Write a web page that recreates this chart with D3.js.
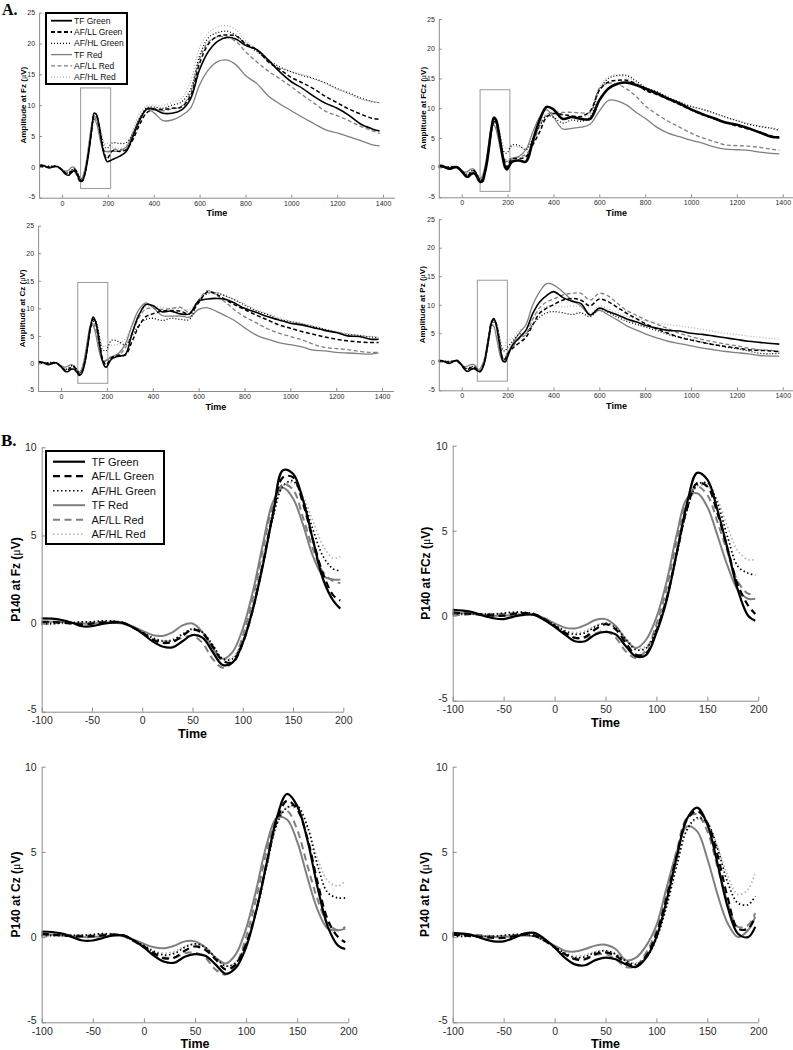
<!DOCTYPE html>
<html>
<head>
<meta charset="utf-8">
<script src="https://cdn.jsdelivr.net/npm/d3@7"></script>
<style>
body { margin: 0; background: #fff; }
svg text { font-family: Arial, "Liberation Sans", Helvetica, sans-serif; }
</style>
</head>
<body>
<div id="chart"></div>
<script>

// condition names (legend order)
var seriesNames = ["TF Green", "AF/LL Green", "AF/HL Green", "TF Red", "AF/LL Red", "AF/HL Red"];

// ticks
var xTicksA = [0, 200, 400, 600, 800, 1000, 1200, 1400];
var yTicksA = [-5, 0, 5, 10, 15, 20, 25];
var xTicksB = [-100, -50, 0, 50, 100, 150, 200];
var yTicksB = [-5, 0, 5, 10];

// sample times: early window (shared by A and B) and the rest of the epoch (A only)
var tEarly = [-100, -90, -80, -70, -60, -50, -40, -30, -20, -10,
              0, 10, 20, 30, 40, 50, 60, 70, 80, 90,
              100, 110, 120, 130, 140, 150, 160, 170, 180, 190, 197];
var tLate = [220, 250, 280, 310, 340, 370, 400, 440, 480, 520,
             560, 600, 640, 680, 720, 760, 800, 850, 900, 950,
             1000, 1050, 1100, 1150, 1200, 1250, 1300, 1350, 1385];

// P140 window boxes drawn on the A panels: [t0, t1, v0, v1]
var boxFz  = [81, 212, -3.5, 12.8];
var boxFCz = [80, 210, -4.0, 13.1];
var boxCz  = [73, 204, -3.6, 14.7];
var boxPz  = [68, 199, -3.4, 14.3];

// ---- Fz ----
var fzEarly = [
  [0.3,0.28,0.2,0.05,-0.15,-0.15,-0.02,0.05,0.05,-0.2, -0.55,-1.0,-1.3,-1.35,-1.0,-0.65,-0.8,-1.6,-2.35,-2.2, -1.1,0.8,3.3,6.2,8.7,8.5,7.0,4.7,2.5,1.3, 0.85],
  [0.1,0.1,0.05,0.0,-0.05,0.0,0.05,0.1,0.05,-0.2, -0.5,-0.9,-1.1,-1.05,-0.7,-0.35,-0.55,-1.3,-2.1,-2.2, -1.1,0.8,3.4,6.2,8.3,8.3,6.8,4.7,2.8,1.6, 1.3],
  [0.0,0.0,0.05,0.05,0.1,0.1,0.15,0.15,0.05,-0.2, -0.5,-0.8,-1.0,-0.95,-0.6,-0.3,-0.5,-1.2,-2.0,-2.0, -1.0,0.9,3.3,6.0,7.8,8.1,7.0,5.3,3.8,3.1, 3.0],
  [0.1,0.1,0.1,0.05,0.0,0.0,0.05,0.05,0.0,-0.15, -0.4,-0.65,-0.7,-0.5,-0.1,0.0,-0.5,-1.4,-2.0,-1.6, -0.3,1.8,4.5,6.9,7.7,7.1,5.6,3.8,2.7,2.5, 2.5],
  [0.0,0.0,0.05,0.05,0.05,0.05,0.1,0.1,0.05,-0.2, -0.5,-0.9,-1.0,-1.0,-0.8,-0.7,-1.1,-2.0,-2.5,-2.2, -0.7,1.4,4.2,6.7,7.9,7.6,6.0,4.2,2.9,2.4, 2.3],
  [-0.05,-0.05,0.0,0.05,0.1,0.1,0.15,0.15,0.1,-0.15, -0.45,-0.8,-0.95,-0.9,-0.6,-0.35,-0.5,-1.2,-2.0,-1.9, -0.8,1.2,3.8,6.3,7.8,8.0,7.2,5.8,4.4,3.7, 3.8]
];
var fzLate = [
  [1.2,1.7,2.5,5.0,7.6,9.4,9.4,8.7,8.7,9.2, 11.0,15.8,18.8,20.4,21.0,20.7,19.7,19.0,17.3,15.4, 13.8,12.7,11.4,10.3,9.5,8.4,7.0,6.2,5.8],
  [2.6,2.5,2.8,4.5,7.0,8.8,9.3,9.3,9.5,9.7, 11.5,16.8,20.0,21.2,21.4,21.2,20.0,19.0,17.0,15.8, 14.5,13.6,12.6,11.4,10.4,9.4,8.6,7.9,7.7],
  [3.9,3.8,3.9,5.5,8.0,9.6,9.7,9.5,10.0,10.5, 12.5,18.0,21.0,21.8,22.0,21.3,20.0,18.7,17.3,16.2, 15.4,14.8,14.3,13.6,12.7,12.0,11.2,10.6,10.4],
  [2.5,2.6,3.2,5.5,8.0,9.3,8.8,7.5,7.6,8.3, 9.5,13.3,15.8,17.1,17.3,16.5,14.8,13.5,11.5,10.2, 9.1,8.0,7.0,6.0,5.5,4.9,4.3,3.6,3.4],
  [2.8,2.8,3.0,5.0,7.8,9.3,9.3,9.1,9.4,9.8, 12.0,17.5,20.3,21.1,21.0,20.3,18.7,17.0,15.5,14.3, 13.0,11.6,10.3,9.0,8.3,7.5,6.6,5.9,5.4],
  [3.2,3.0,3.5,6.0,8.8,9.9,10.0,9.9,10.5,11.0, 13.8,19.3,21.8,22.7,22.9,22.2,20.5,18.8,17.0,16.0, 15.5,15.0,14.2,13.5,12.6,11.8,11.0,10.6,10.4]
];

// ---- FCz ----
var fczEarly = [
  [0.35,0.3,0.2,0.0,-0.15,-0.2,-0.05,0.05,0.05,-0.25, -0.65,-1.1,-1.5,-1.5,-1.1,-0.95,-1.1,-1.8,-2.4,-2.3, -1.0,0.9,3.7,6.6,8.4,8.0,6.2,3.9,1.5,0.0, -0.3],
  [0.2,0.15,0.1,0.05,0.0,0.0,0.1,0.15,0.1,-0.2, -0.6,-1.0,-1.3,-1.25,-0.8,-0.5,-0.8,-1.6,-2.3,-2.2, -0.9,1.0,3.7,6.3,7.8,7.6,6.0,3.9,1.8,0.6, 0.1],
  [0.1,0.1,0.1,0.1,0.1,0.15,0.2,0.2,0.1,-0.2, -0.55,-0.9,-1.1,-1.0,-0.65,-0.45,-0.7,-1.4,-2.0,-1.9, -0.8,1.0,3.6,6.2,7.7,7.8,6.6,4.6,2.9,2.5, 2.4],
  [0.15,0.15,0.1,0.05,0.0,0.0,0.05,0.1,0.05,-0.15, -0.45,-0.7,-0.75,-0.55,-0.25,-0.2,-0.6,-1.4,-1.9,-1.4, -0.1,2.0,4.8,6.9,7.2,6.4,4.7,2.9,1.5,1.0, 1.0],
  [0.05,0.05,0.1,0.1,0.1,0.1,0.15,0.15,0.05,-0.25, -0.6,-1.0,-1.3,-1.3,-1.05,-0.9,-1.3,-2.1,-2.5,-2.0, -0.5,1.6,4.4,6.8,7.6,7.1,5.5,3.7,2.0,1.3, 1.3],
  [0.0,0.05,0.1,0.1,0.1,0.15,0.2,0.2,0.1,-0.15, -0.5,-0.85,-1.0,-0.9,-0.6,-0.4,-0.65,-1.3,-1.9,-1.8, -0.6,1.2,3.8,6.3,7.6,7.6,6.8,5.2,3.8,3.3, 3.3]
];
var fczLate = [
  [1.0,1.2,1.0,4.5,8.0,10.2,9.8,8.2,8.5,8.2, 8.2,11.3,13.3,14.1,14.3,13.9,13.3,12.5,11.6,10.8, 9.8,9.0,8.3,7.6,7.2,6.6,5.9,5.2,5.1],
  [1.5,1.5,1.8,3.8,6.0,8.5,9.1,8.9,8.7,8.6, 9.5,13.0,14.4,14.7,14.7,14.1,13.0,12.3,11.5,10.6, 9.7,8.9,8.2,7.6,7.0,6.5,6.0,5.3,5.0],
  [3.8,3.7,3.0,4.8,7.0,8.6,8.5,7.5,8.0,7.8, 8.5,13.0,15.0,15.5,15.5,14.6,13.5,12.8,11.8,11.0, 10.3,9.8,9.2,8.5,7.9,7.3,6.9,6.6,6.3],
  [1.4,1.9,3.0,6.0,8.5,9.7,8.5,6.5,6.6,6.8, 7.3,9.5,11.3,11.2,10.5,9.3,8.3,6.8,5.8,5.2, 4.6,4.1,3.5,3.1,3.0,2.9,2.6,2.4,2.3],
  [1.6,1.8,2.2,4.0,7.0,8.9,9.3,9.3,9.3,9.2, 9.3,13.3,14.2,14.0,13.2,12.0,10.4,9.0,7.8,6.8, 5.8,5.0,4.4,3.8,3.7,3.6,3.4,3.1,2.9],
  [3.5,3.5,3.2,5.0,7.5,9.0,9.0,8.2,8.5,8.5, 9.0,13.5,15.3,15.5,15.2,14.3,13.2,12.5,11.7,11.0, 10.3,9.8,9.1,8.5,7.9,7.4,7.0,6.7,6.5]
];

// ---- Cz ----
var czEarly = [
  [0.33,0.3,0.2,0.0,-0.2,-0.2,-0.05,0.1,0.1,-0.2, -0.6,-1.1,-1.45,-1.5,-1.15,-1.0,-1.1,-1.6,-2.15,-1.8, -0.6,1.55,4.3,7.0,8.4,7.7,5.7,2.9,0.6,-0.5, -0.7],
  [0.2,0.15,0.1,0.05,0.05,0.05,0.1,0.15,0.1,-0.2, -0.55,-0.95,-1.25,-1.2,-0.8,-0.55,-0.75,-1.3,-1.9,-1.6, -0.4,1.6,4.3,6.8,8.0,7.5,5.8,3.2,1.0,0.0, -0.3],
  [0.1,0.1,0.1,0.1,0.1,0.15,0.2,0.15,0.1,-0.2, -0.5,-0.85,-1.05,-0.95,-0.6,-0.4,-0.6,-1.2,-1.7,-1.5, -0.4,1.5,4.1,6.6,7.6,7.7,6.5,4.2,2.6,2.3, 2.3],
  [0.2,0.15,0.1,0.05,0.0,0.0,0.05,0.1,0.05,-0.15, -0.4,-0.6,-0.65,-0.5,-0.25,-0.25,-0.6,-1.2,-1.55,-1.0, 0.5,2.8,5.4,7.0,6.9,5.6,3.5,1.6,0.5,0.4, 0.5],
  [0.1,0.1,0.1,0.1,0.1,0.1,0.15,0.15,0.05,-0.25, -0.6,-1.0,-1.2,-1.2,-0.95,-0.9,-1.2,-1.9,-2.2,-1.6, 0.0,2.3,5.0,7.0,7.4,6.3,4.2,2.2,0.8,0.4, 0.6],
  [0.0,0.05,0.1,0.1,0.1,0.15,0.2,0.2,0.1,-0.15, -0.45,-0.8,-0.95,-0.85,-0.55,-0.4,-0.6,-1.2,-1.7,-1.5, -0.3,1.6,4.2,6.6,7.6,7.5,6.4,4.6,3.3,3.0, 3.3]
];
var czLate = [
  [0.8,1.3,1.6,5.5,8.8,10.7,10.5,9.4,9.5,9.0, 9.0,11.3,11.7,11.8,11.6,10.9,10.0,9.3,8.5,7.9, 7.3,7.0,6.5,6.0,5.6,5.0,4.9,4.4,4.4],
  [1.0,1.5,1.5,4.0,6.8,8.5,9.0,9.5,9.6,9.5, 9.0,11.0,13.0,12.5,11.5,10.6,9.8,8.8,7.9,7.0, 6.4,5.8,5.3,4.8,4.4,4.1,3.9,3.8,3.8],
  [4.2,4.0,3.4,5.0,7.0,8.0,8.2,7.8,8.2,8.0, 8.0,11.5,12.7,12.8,12.2,11.5,10.6,9.6,8.9,8.0, 7.6,7.2,6.7,6.2,5.7,5.3,5.1,4.8,4.7],
  [1.2,1.8,3.5,7.0,9.8,11.0,10.2,8.7,8.6,8.6, 8.4,9.8,10.1,9.4,8.6,7.7,6.5,5.2,4.4,3.8, 3.4,3.0,2.4,2.3,2.0,1.9,1.8,1.7,1.9],
  [1.2,1.5,2.8,5.5,8.3,9.9,10.0,9.8,10.0,10.2, 9.3,11.5,13.2,12.3,11.0,9.6,8.5,7.4,6.3,5.5, 4.9,4.3,3.5,2.9,2.7,2.5,2.2,2.0,2.0],
  [3.3,3.5,4.5,6.8,9.0,10.3,10.4,10.2,10.0,10.0, 9.8,11.5,12.9,12.8,12.2,11.5,10.8,9.8,9.0,8.3, 7.7,7.2,6.8,6.2,5.8,5.4,5.0,4.9,4.8]
];

// ---- Pz ----
var pzEarly = [
  [0.25,0.2,0.1,-0.1,-0.25,-0.25,-0.05,0.2,0.25,-0.1, -0.6,-1.2,-1.6,-1.65,-1.35,-1.2,-1.3,-1.6,-1.75,-1.2, 0.0,2.15,4.7,6.95,7.6,6.6,4.3,1.75,0.2,0.0, 0.6],
  [0.15,0.1,0.05,0.0,-0.05,-0.05,0.05,0.15,0.1,-0.2, -0.6,-1.0,-1.3,-1.3,-1.0,-0.9,-1.1,-1.5,-1.7,-1.1, 0.2,2.3,4.8,6.9,7.4,6.7,4.8,2.3,0.5,0.5, 1.2],
  [0.05,0.05,0.05,0.05,0.05,0.1,0.15,0.15,0.05,-0.2, -0.55,-0.95,-1.2,-1.15,-0.9,-0.8,-1.0,-1.4,-1.6,-1.2, -0.1,1.8,4.2,6.3,7.0,6.7,5.2,3.2,2.0,1.9, 2.4],
  [0.15,0.15,0.1,0.05,0.0,0.0,0.05,0.1,0.05,-0.2, -0.5,-0.8,-0.85,-0.7,-0.5,-0.45,-0.7,-1.35,-1.2,-0.5, 0.7,2.9,5.0,6.5,6.2,4.6,2.5,0.8,0.0,0.4, 1.2],
  [0.2,0.2,0.15,0.1,0.05,0.05,0.1,0.15,0.1,-0.2, -0.6,-1.0,-1.25,-1.25,-1.05,-1.0,-1.3,-1.75,-1.7,-0.9, 0.4,2.6,5.1,7.0,7.2,6.2,4.1,2.0,0.6,0.7, 1.4],
  [0.0,0.0,0.05,0.05,0.05,0.1,0.15,0.15,0.05,-0.2, -0.55,-0.9,-1.1,-1.05,-0.85,-0.8,-1.0,-1.4,-1.5,-1.1, 0.0,1.9,4.3,6.3,6.9,6.6,5.3,3.6,2.5,2.8, 3.8]
];
var pzLate = [
  [2.8,4.2,5.5,8.5,10.5,11.6,12.3,11.3,10.6,10.2, 8.2,9.4,8.8,8.2,7.5,7.0,6.4,5.9,5.5,5.4, 5.0,4.8,4.5,4.2,3.9,3.6,3.4,3.2,3.1],
  [2.3,3.3,4.3,6.5,8.5,9.4,10.0,10.8,11.1,10.8, 9.8,11.0,10.5,9.5,8.5,7.6,6.7,5.8,5.0,4.3, 3.8,3.4,3.0,2.7,2.4,2.1,2.0,1.9,1.8],
  [3.5,4.8,5.0,6.5,7.8,8.6,8.8,8.6,8.3,8.6, 7.9,9.3,8.6,7.8,7.1,6.6,6.1,5.5,4.8,4.3, 3.9,3.4,3.0,2.6,2.3,1.9,1.5,1.4,1.5],
  [3.0,5.0,6.5,10.0,12.3,13.7,13.5,12.3,10.8,9.8, 8.2,9.0,8.2,7.3,6.3,5.6,4.9,4.2,3.6,3.2, 2.8,2.4,2.1,1.8,1.6,1.4,1.1,1.0,1.0],
  [2.5,4.0,4.8,7.5,9.5,10.5,11.0,11.7,12.0,12.0, 10.8,12.0,11.5,10.2,9.0,8.2,7.4,6.6,5.8,5.0, 4.4,3.9,3.5,3.1,2.8,2.4,2.1,2.0,1.8],
  [4.0,5.5,6.0,7.5,9.0,9.7,9.9,9.6,9.8,9.6, 8.5,9.8,9.2,8.6,8.0,7.6,7.2,6.8,6.5,6.3, 6.0,5.7,5.3,5.0,4.8,4.5,4.3,4.1,4.0]
];

// ---- styling ----
var colors = ["#000", "#000", "#000", "#7f7f7f", "#7f7f7f", "#b4b4b4"];
var kinds = ["solid", "dashed", "dotted", "solid", "dashed", "dotted"];
var dashA = {solid: null, dashed: "4,2.5", dotted: "1,2"};
var dashB = {solid: null, dashed: "7,4.5", dotted: "1.5,2.5"};
var axisGray = "#8c8c8c";
var plain = function(d) { return String(d); };   // MATLAB style: 1400, -5 (hyphen, no comma)

var svg = d3.select("#chart").append("svg")
    .attr("width", 793)
    .attr("height", 1050);
svg.append("rect").attr("width", 793).attr("height", 1050).attr("fill", "#fff");

function pointsFor(early, late, k) {
    var pts = tEarly.map(function(t, i) { return [t, early[k][i]]; });
    if (late) {
        pts = pts.concat(tLate.map(function(t, i) { return [t, late[k][i]]; }));
    }
    return pts;
}

function drawPanel(c) {
    var g = svg.append("g");
    var x = d3.scaleLinear().domain(c.xDomain).range(c.xRange);
    var y = d3.scaleLinear().domain(c.yDomain).range(c.yRange);

    // box around the P140 window
    if (c.box) {
        g.append("rect")
            .attr("x", x(c.box[0]))
            .attr("y", y(c.box[3]))
            .attr("width", x(c.box[1]) - x(c.box[0]))
            .attr("height", y(c.box[2]) - y(c.box[3]))
            .attr("fill", "none")
            .attr("stroke", "#999")
            .attr("stroke-width", 1);
    }

    var line = d3.line()
        .x(function(d) { return x(d[0]); })
        .y(function(d) { return y(d[1]); })
        .curve(d3.curveCatmullRom);

    // draw red (gray) conditions first so the green (black) ones sit on top
    for (var k = 5; k >= 0; k--) {
        g.append("path")
            .datum(pointsFor(c.early, c.late, k))
            .attr("d", line)
            .attr("fill", "none")
            .attr("stroke", colors[k])
            .attr("stroke-width", c.widths[k])
            .attr("stroke-dasharray", c.dash[kinds[k]])
            .attr("stroke-linejoin", "round");
    }

    var gx = g.append("g")
        .attr("transform", "translate(0," + c.yRange[0] + ")")
        .call(d3.axisBottom(x).tickValues(c.xTicks).tickFormat(plain)
            .tickSizeInner(-c.tick).tickSizeOuter(0).tickPadding(c.padX));
    var gy = g.append("g")
        .attr("transform", "translate(" + c.xRange[0] + ",0)")
        .call(d3.axisLeft(y).tickValues(c.yTicks).tickFormat(plain)
            .tickSizeInner(-c.tick).tickSizeOuter(0).tickPadding(c.padY));
    [gx, gy].forEach(function(a) {
        a.attr("font-family", null).attr("font-size", null);
        a.select(".domain").attr("stroke", axisGray);
        a.selectAll(".tick line").attr("stroke", axisGray);
        a.selectAll(".tick text").attr("fill", "#2a2a2a").style("font-size", c.fs + "px");
    });
    // lowest y label sits just above the first x label, as in the original
    gy.selectAll(".tick text").filter(function(d) { return d === c.yDomain[0]; })
        .attr("dy", "0.1em");

    // Time label
    g.append("text")
        .attr("x", (x(c.xLabelAt[0]) + x(c.xLabelAt[1])) / 2)
        .attr("y", c.yRange[0] + c.timeOff)
        .attr("text-anchor", "middle")
        .style("font-size", c.labFs + "px")
        .style("font-weight", "bold")
        .text("Time");

    // y label with a symbol-font mu
    var yl = g.append("text")
        .attr("transform", "translate(" + c.yLabX + "," + ((c.yRange[0] + c.yRange[1]) / 2) + ") rotate(-90)")
        .attr("text-anchor", "middle")
        .attr("dy", "0.35em")
        .style("font-size", c.yLabFs + "px")
        .style("font-weight", "bold");
    yl.append("tspan").text(c.yLabel + " (");
    yl.append("tspan").style("font-weight", "normal").style("font-family", "'Times New Roman', 'Liberation Serif', serif").text("\u03BC");
    yl.append("tspan").text("V)");
}

function drawLegend(l) {
    var g = svg.append("g");
    g.append("rect")
        .attr("x", l.x).attr("y", l.y).attr("width", l.w).attr("height", l.h)
        .attr("fill", "#fff").attr("stroke", "#000").attr("stroke-width", 2);
    seriesNames.forEach(function(name, k) {
        var yy = l.y0 + k * l.step;
        g.append("line")
            .attr("x1", l.lx0).attr("x2", l.lx1).attr("y1", yy).attr("y2", yy)
            .attr("stroke", colors[k])
            .attr("stroke-width", l.widths[k])
            .attr("stroke-dasharray", l.dash[kinds[k]]);
        g.append("text")
            .attr("x", l.tx).attr("y", yy).attr("dy", "0.35em")
            .style("font-size", l.fs + "px")
            .attr("fill", "#111")
            .text(name);
    });
}

var widthsA = [1.6, 1.5, 1.3, 1.3, 1.3, 1.3];
var widthsA2 = [2.6, 1.5, 1.3, 1.3, 1.3, 1.3];
var widthsB = [2.2, 2.2, 1.7, 2.0, 2.0, 1.7];

var commonA = {xDomain: [-100, 1450], yDomain: [-5, 25], xTicks: xTicksA, yTicks: yTicksA,
    fs: 7, tick: 3, padX: 3, padY: 4, labFs: 9, yLabFs: 8, timeOff: 18.5, dash: dashA, xLabelAt: [-100, 1450]};
var commonB = {xDomain: [-100, 200], yDomain: [-5, 10], xTicks: xTicksB, yTicks: yTicksB,
    fs: 10.5, tick: 4, padX: 5, padY: 5, labFs: 12.5, yLabFs: 12, timeOff: 26, dash: dashB, xLabelAt: [-100, 200], widths: widthsB};

function cfg(base, extra) { return Object.assign({}, base, extra); }

// Section A: full epochs
drawPanel(cfg(commonA, {xRange: [39.1, 394.5], yRange: [197.7, 12.7], early: fzEarly, late: fzLate, box: boxFz,
    widths: widthsA, yLabel: "Amplitude at Fz", yLabX: 23}));
drawPanel(cfg(commonA, {xRange: [438.8, 794.2], yRange: [197.3, 19], early: fczEarly, late: fczLate, box: boxFCz,
    widths: widthsA2, yLabel: "Amplitude at FCz", yLabX: 423}));
drawPanel(cfg(commonA, {xRange: [38.1, 393.5], yRange: [391, 225.7], early: czEarly, late: czLate, box: boxCz,
    widths: widthsA, yLabel: "Amplitude at Cz", yLabX: 22}));
drawPanel(cfg(commonA, {xRange: [438.8, 794.2], yRange: [390.3, 219.2], early: pzEarly, late: pzLate, box: boxPz,
    widths: widthsA, yLabel: "Amplitude at Pz", yLabX: 422}));

// Section B: P140 window
drawPanel(cfg(commonB, {xRange: [41.7, 343.3], yRange: [711.7, 447.3], early: fzEarly, late: null, yLabel: "P140 at Fz", yLabX: 16}));
drawPanel(cfg(commonB, {xRange: [452.7, 758.3], yRange: [700.7, 445.7], early: fczEarly, late: null, yLabel: "P140 at FCz", yLabX: 426}));
drawPanel(cfg(commonB, {xRange: [41.7, 348.3], yRange: [1022.3, 766.7], early: czEarly, late: null, yLabel: "P140 at Cz", yLabX: 16, timeOff: 25.5}));
drawPanel(cfg(commonB, {xRange: [452.7, 758.3], yRange: [1022.3, 766.7], early: pzEarly, late: null, yLabel: "P140 at Pz", yLabX: 425, timeOff: 25.5}));

// legends
drawLegend({x: 46, y: 13, w: 81, h: 71, lx0: 51, lx1: 72, tx: 74, y0: 20.7, step: 11.3, fs: 8.5, widths: [1.8, 1.8, 1.3, 1.3, 1.3, 1.3], dash: dashA});
drawLegend({x: 46, y: 451, w: 118, h: 93, lx0: 53, lx1: 85, tx: 91.5, y0: 461.7, step: 14.5, fs: 11, widths: [2.2, 2.2, 1.6, 2.0, 2.0, 1.6], dash: dashB});

// section letters
svg.append("text").attr("x", 2).attr("y", 15)
    .style("font-family", "'Times New Roman', 'Liberation Serif', serif")
    .style("font-size", "16px").style("font-weight", "bold").text("A.");
svg.append("text").attr("x", 1).attr("y", 446)
    .style("font-family", "'Times New Roman', 'Liberation Serif', serif")
    .style("font-size", "17px").style("font-weight", "bold").text("B.");

</script>
</body>
</html>
